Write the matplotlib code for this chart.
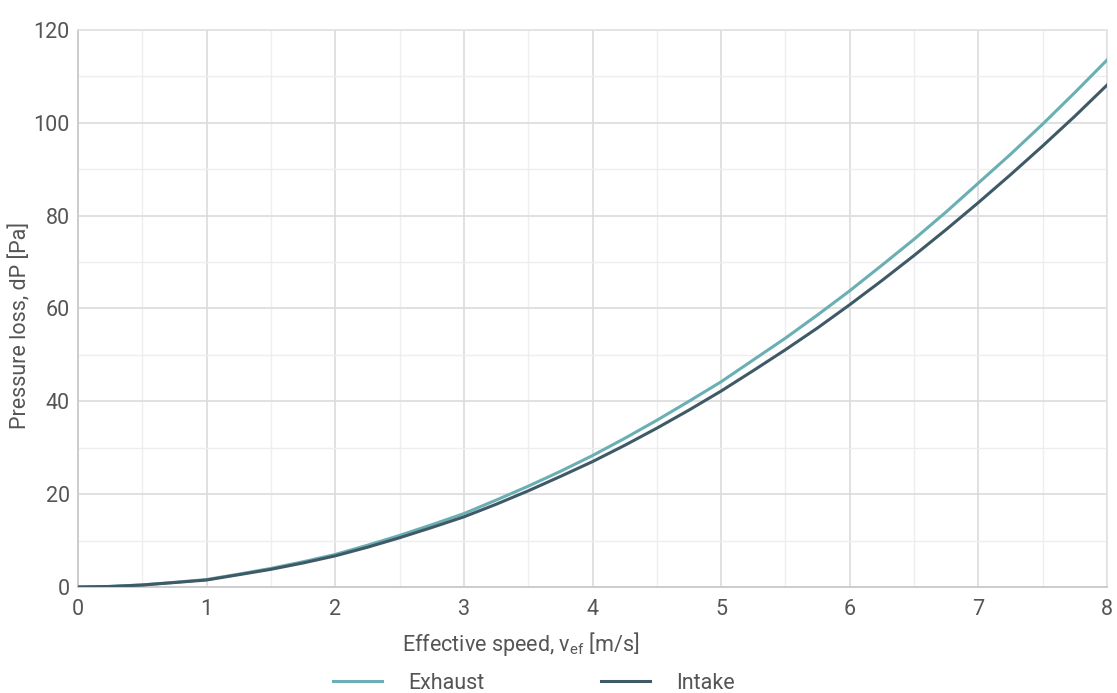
"""Pressure loss vs effective speed, exhaust and intake."""
import matplotlib
matplotlib.use('Agg')
import matplotlib.pyplot as plt
from matplotlib.ticker import MultipleLocator

plt.rcParams.update({
    'font.family': ['Roboto', 'DejaVu Sans'],
    'mathtext.default': 'regular',
    'font.size': 15,
    'text.color': '#555555',
    'axes.labelcolor': '#555555',
    'xtick.color': '#555555',
    'ytick.color': '#555555',
})

EXHAUST = '#6aafb3'
INTAKE = '#3f5a66'

speed = [0, 0.25, 0.5, 0.75, 1, 1.25, 1.5, 1.75, 2, 2.25, 2.5, 2.75, 3, 3.25,
         3.5, 3.75, 4, 4.25, 4.5, 4.75, 5, 5.25, 5.5, 5.75, 6, 6.25, 6.5,
         6.75, 7, 7.25, 7.5, 7.75, 8]
exhaust_dp = [0.0, 0.11, 0.45, 1.0, 1.6, 2.77, 4.0, 5.43, 7.0, 8.98, 11.1,
              13.4, 15.8, 18.7, 21.7, 24.9, 28.3, 32.0, 35.9, 40.0, 44.2,
              48.9, 53.6, 58.6, 63.8, 69.3, 74.9, 80.8, 87.0, 93.2, 99.7,
              106.5, 113.5]
intake_dp = [0.0, 0.11, 0.42, 0.95, 1.5, 2.64, 3.8, 5.17, 6.7, 8.55, 10.6,
             12.8, 15.1, 17.8, 20.7, 23.8, 27.0, 30.5, 34.2, 38.1, 42.2,
             46.6, 51.1, 55.8, 60.8, 66.0, 71.4, 77.0, 82.8, 88.8, 95.0,
             101.4, 108.1]

fig = plt.figure(figsize=(11.17, 6.93), dpi=100)
ax = fig.add_axes([0.0698, 0.153, 0.9213, 0.804])

ax.plot(speed, exhaust_dp, color=EXHAUST, linewidth=2.2, label='Exhaust', zorder=3)
ax.plot(speed, intake_dp, color=INTAKE, linewidth=2.2, label='Intake', zorder=3)

ax.set_xlim(0, 8)
ax.set_ylim(0, 120)
ax.xaxis.set_major_locator(MultipleLocator(1))
ax.xaxis.set_minor_locator(MultipleLocator(0.5))
ax.yaxis.set_major_locator(MultipleLocator(20))
ax.yaxis.set_minor_locator(MultipleLocator(10))
ax.grid(which='major', color='#dcdcdc', linewidth=1.2)
ax.grid(which='minor', color='#eeeeee', linewidth=1.0)
ax.set_axisbelow(True)
ax.tick_params(which='both', length=0, labelsize=15.5)
ax.tick_params(axis='x', pad=9)
ax.tick_params(axis='y', pad=6)
for side in ['top', 'right']:
    ax.spines[side].set_color('#e2e2e2')
    ax.spines[side].set_linewidth(1.2)
for side in ['left', 'bottom']:
    ax.spines[side].set_color('#cccccc')
    ax.spines[side].set_linewidth(1.4)

ax.set_xlabel('Effective speed, v$_{ef}$ [m/s]', fontsize=15.5, labelpad=6)
ax.xaxis.set_label_coords(0.43, -0.078)
ax.set_ylabel('Pressure loss, dP [Pa]', fontsize=15.5, labelpad=8)
ax.yaxis.set_label_coords(-0.045, 0.47)

ax.legend(loc='upper center', bbox_to_anchor=(0.443, -0.119), ncol=2,
          frameon=False, fontsize=15.5, handlelength=2.3, handletextpad=1.2,
          columnspacing=5.4)

plt.savefig('out.png', dpi=100, facecolor='white')
